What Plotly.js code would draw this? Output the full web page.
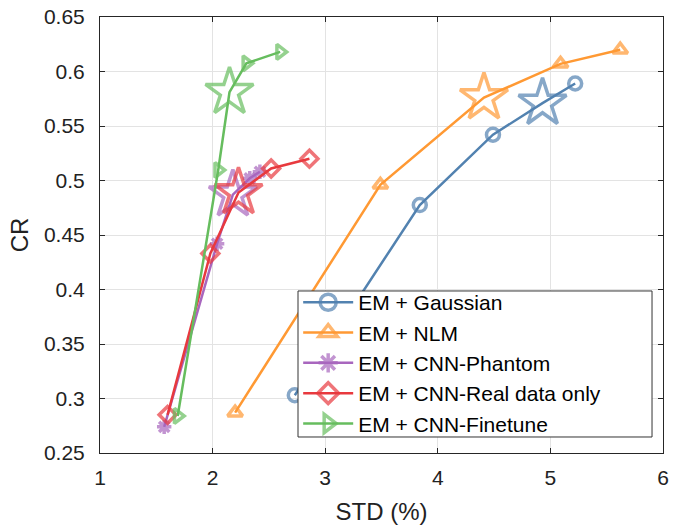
<!DOCTYPE html>
<html>
<head>
<meta charset="utf-8">
<script src="https://cdn.plot.ly/plotly-3.0.1.min.js"></script>
<style>html,body{margin:0;padding:0;background:#fff}#chart{width:673px;height:527px}</style>
</head>
<body>
<div id="chart"></div>
<script>
var seriesNames = ['EM + Gaussian', 'EM + NLM', 'EM + CNN-Phantom', 'EM + CNN-Real data only', 'EM + CNN-Finetune'];
var gaussianSTD = [2.73, 3.84, 4.49, 4.93, 5.22];
var gaussianCR  = [0.303, 0.4775, 0.542, 0.571, 0.589];
var nlmSTD = [2.20, 3.49, 4.41, 5.09, 5.62];
var nlmCR  = [0.287, 0.496, 0.576, 0.607, 0.620];
var phantomSTD = [1.57, 2.04, 2.18, 2.33, 2.42];
var phantomCR  = [0.274, 0.442, 0.487, 0.502, 0.508];
var realSTD = [1.60, 1.98, 2.23, 2.52, 2.86];
var realCR  = [0.285, 0.433, 0.489, 0.511, 0.520];
var finetuneSTD = [1.69, 2.05, 2.15, 2.30, 2.60];
var finetuneCR  = [0.284, 0.5096, 0.581, 0.6075, 0.618];
var starIndex = [3, 2, 2, 2, 2];
var xTicks = [1, 2, 3, 4, 5, 6];
var yTicks = [0.25, 0.3, 0.35, 0.4, 0.45, 0.5, 0.55, 0.6, 0.65];

var colors = ['#5282B0', '#FF9933', '#A866BE', '#E8393E', '#66BD5E'];
var symbols = ['circle-open', 'triangle-up-open', 'asterisk-open', 'diamond-open', 'triangle-right-open'];
var xs = [gaussianSTD, nlmSTD, phantomSTD, realSTD, finetuneSTD];
var ys = [gaussianCR, nlmCR, phantomCR, realCR, finetuneCR];

var traces = [];
for (var i = 0; i < 5; i++) {
  var sym = [], sz = [];
  for (var j = 0; j < xs[i].length; j++) {
    if (j === starIndex[i]) { sym.push('star-open'); sz.push(36); }
    else { sym.push(symbols[i]); sz.push(i === 2 ? 12 : 13); }
  }
  traces.push({
    x: xs[i], y: ys[i], name: seriesNames[i], type: 'scatter', mode: 'lines+markers',
    legendgroup: 'g' + i,
    line: {color: colors[i], width: 2.5},
    marker: {symbol: sym, size: sz, color: colors[i], line: {color: colors[i], width: 3.5}}
  });
}

var font = 'Liberation Sans, Arial, sans-serif';
var layout = {
  width: 673, height: 527,
  margin: {l: 100, r: 10, t: 17, b: 74},
  paper_bgcolor: '#fff', plot_bgcolor: '#fff',
  font: {family: font, color: '#000'},
  showlegend: true,
  legend: {
    x: 0.352, y: 0.392, xanchor: 'left', yanchor: 'top',
    bgcolor: 'rgba(0,0,0,0)', borderwidth: 0,
    font: {family: font, size: 21, color: '#000'},
    itemwidth: 50, tracegroupgap: 0, traceorder: 'grouped'
  },
  shapes: [{
    type: 'rect', xref: 'paper', yref: 'paper', layer: 'above',
    x0: 0.3517, x1: 0.9805, y0: 0.0367, y1: 0.3716,
    fillcolor: '#fff', line: {color: '#333', width: 1}
  }],
  xaxis: {
    range: [1, 6], tickvals: xTicks, ticktext: xTicks.map(String),
    showgrid: true, gridcolor: '#e3e3e3', gridwidth: 1,
    zeroline: false, showline: true, linecolor: '#262626', linewidth: 1, mirror: 'ticks',
    ticks: 'inside', ticklen: 5, tickcolor: '#262626',
    tickfont: {family: font, size: 21, color: '#222'}, ticklabelstandoff: 6,
    title: {text: 'STD (%)', font: {family: font, size: 24, color: '#222'}, standoff: 14}
  },
  yaxis: {
    range: [0.25, 0.65], tickvals: yTicks, ticktext: yTicks.map(String),
    showgrid: true, gridcolor: '#e3e3e3', gridwidth: 1,
    zeroline: false, showline: true, linecolor: '#262626', linewidth: 1, mirror: 'ticks',
    ticks: 'inside', ticklen: 5, tickcolor: '#262626',
    tickfont: {family: font, size: 21, color: '#222'}, ticklabelstandoff: 10,
    title: {text: 'CR', font: {family: font, size: 24, color: '#222'}, standoff: 8}
  }
};
Plotly.newPlot('chart', traces, layout, {staticPlot: true, displayModeBar: false});
</script>
</body>
</html>
